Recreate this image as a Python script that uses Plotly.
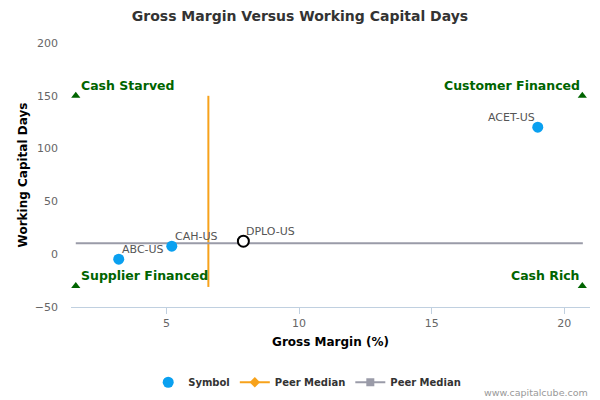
import plotly.graph_objects as go

# Data
symbols = ["ABC-US", "CAH-US", "ACET-US"]
gross_margin = [3.2, 5.2, 19.0]
wc_days = [-4.7, 7.6, 120.3]

focus_symbol = ["DPLO-US"]
focus_gm = [7.9]
focus_wc = [12.3]

peer_median_gm = 6.58
peer_median_wc = 10.4
wc_line_span = [-31, 150]
gm_line_span = [1.58, 20.7]

quad_labels = ["Cash Starved", "Customer Financed", "Supplier Financed", "Cash Rich"]
quad_x = [1.58, 20.68, 1.58, 20.68]
quad_y = [150, 150, -30, -30]

x_ticks = [5, 10, 15, 20]
y_ticks = [-50, 0, 50, 100, 150, 200]

BLUE = "#0aa0f0"
ORANGE = "#f7a21b"
GRAY = "#9a9ba8"
GREEN = "#006400"
FONT = "DejaVu Sans"

fig = go.Figure()

fig.add_trace(go.Scatter(
    x=[peer_median_gm, peer_median_gm], y=wc_line_span, mode="lines",
    line=dict(color=ORANGE, width=2), showlegend=False, hoverinfo="skip"))
fig.add_trace(go.Scatter(
    x=gm_line_span, y=[peer_median_wc, peer_median_wc], mode="lines",
    line=dict(color=GRAY, width=2), showlegend=False, hoverinfo="skip"))

fig.add_trace(go.Scatter(
    x=quad_x, y=quad_y, mode="markers",
    marker=dict(symbol="triangle-up", size=8, color=GREEN),
    showlegend=False, hoverinfo="skip"))

fig.add_trace(go.Scatter(
    x=gross_margin, y=wc_days, mode="markers", name="<b>Symbol</b>",
    text=symbols, marker=dict(color=BLUE, size=11)))

fig.add_trace(go.Scatter(
    x=focus_gm, y=focus_wc, mode="markers", text=focus_symbol,
    marker=dict(color="white", size=11, line=dict(color="black", width=2)),
    showlegend=False))

fig.add_trace(go.Scatter(
    x=[None], y=[None], mode="lines+markers", name="<b>Peer Median</b>",
    line=dict(color=ORANGE, width=2),
    marker=dict(symbol="diamond", size=8, color=ORANGE)))
fig.add_trace(go.Scatter(
    x=[None], y=[None], mode="lines+markers", name="<b>Peer Median</b>",
    line=dict(color=GRAY, width=2),
    marker=dict(symbol="square", size=8, color=GRAY)))

# Point labels
for s, gx, wy in zip(symbols + focus_symbol, gross_margin + focus_gm, wc_days + focus_wc):
    right_side = gx > 15
    fig.add_annotation(x=gx, y=wy, text=s, showarrow=False,
                       xanchor="right" if right_side else "left", yanchor="bottom",
                       xshift=-1 if right_side else 1, yshift=1,
                       font=dict(family=FONT, size=11, color="#555555"))

anchors = [("left", 3), ("right", 0), ("left", 3), ("right", 0)]
for lbl, qx, qy, (xa, xs) in zip(quad_labels, quad_x, quad_y, anchors):
    fig.add_annotation(x=qx, y=qy, text="<b>%s</b>" % lbl, showarrow=False,
                       xanchor=xa, yanchor="bottom", xshift=xs, yshift=1,
                       font=dict(family=FONT, size=12.5, color=GREEN))

fig.add_annotation(xref="paper", yref="paper", x=1.0, y=-0.322, xanchor="right", yanchor="middle",
                   text="www.capitalcube.com", showarrow=False,
                   font=dict(family=FONT, size=9.5, color="#999999"))

fig.update_layout(
    width=600, height=400,
    paper_bgcolor="white", plot_bgcolor="white",
    margin=dict(l=71, r=10, t=43, b=93, autoexpand=False),
    title=dict(text="<b>Gross Margin Versus Working Capital Days</b>", x=0.5, xanchor="center",
               xref="container", y=0.96, yanchor="middle",
               font=dict(family=FONT, size=14, color="#333333")),
    font=dict(family=FONT),
    xaxis=dict(range=[1.40, 20.97], tickvals=x_ticks, showgrid=False, zeroline=False,
               automargin=False,
               showline=True, linecolor="#c0d0e0", linewidth=1,
               ticks="outside", ticklen=6, tickcolor="#c0d0e0",
               tickfont=dict(family=FONT, size=11, color="#666666"),
               title=dict(text="<b>Gross Margin (%)</b>", font=dict(family=FONT, size=12, color="#000000"),
                          standoff=8)),
    yaxis=dict(range=[-50, 200], tickvals=y_ticks, showgrid=False, zeroline=False,
               automargin=False,
               showline=False, ticks="", ticklabelstandoff=12,
               tickfont=dict(family=FONT, size=11, color="#666666"),
               title=dict(text="<b>Working Capital Days</b>", font=dict(family=FONT, size=12, color="#000000"),
                          standoff=4)),
    legend=dict(orientation="h", xref="container", x=0.512, xanchor="center", y=-0.285, yanchor="middle",
                font=dict(family=FONT, size=10, color="#333333"),
                itemwidth=30),
)

fig.write_html("out.html", config={"displayModeBar": False},
               post_script="document.body.style.margin='0';")
